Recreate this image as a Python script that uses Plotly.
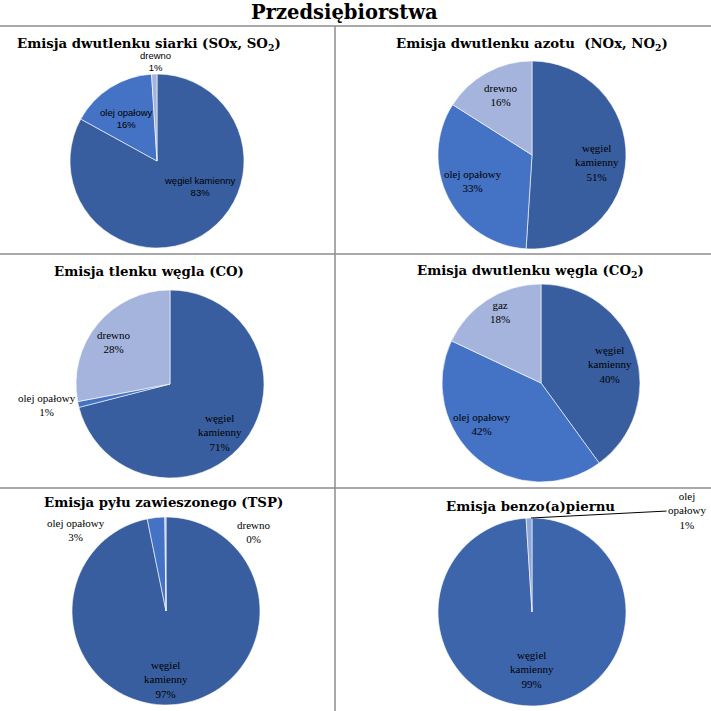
import plotly.graph_objects as go

# udział źródeł w emisji (%) - Przedsiębiorstwa
so2_labels = ['węgiel kamienny', 'olej opałowy', 'drewno']
so2_values = [83, 16, 1]

nox_labels = ['węgiel<br>kamienny', 'olej opałowy', 'drewno']
nox_values = [51, 33, 16]

co_labels = ['węgiel<br>kamienny', 'olej opałowy', 'drewno']
co_values = [71, 1, 28]

co2_labels = ['węgiel<br>kamienny', 'olej opałowy', 'gaz']
co2_values = [40, 42, 18]

tsp_labels = ['węgiel<br>kamienny', 'olej opałowy', 'drewno']
tsp_values = [96.8, 3.0, 0.2]

bap_labels = ['węgiel<br>kamienny', 'olej<br>opałowy']
bap_values = [99, 1]

titles = ['Emisja dwutlenku siarki (SOx, SO<sub>2</sub>)',
          'Emisja dwutlenku azotu  (NOx, NO<sub>2</sub>)',
          'Emisja tlenku węgla (CO)',
          'Emisja dwutlenku węgla (CO<sub>2</sub>)',
          'Emisja pyłu zawieszonego (TSP)',
          'Emisja benzo(a)piernu']

DARK = '#385E9F'
MID = '#4472C4'
LIGHT = '#A5B4DC'

W = 711


def px(x):
    return x / W


def py(y):
    return 1 - y / W


def dom(cx, cy, r):
    return dict(x=[px(cx - r), px(cx + r)], y=[py(cy + r), py(cy - r)])


serif = dict(family='Liberation Serif', size=11, color='black')
sans = dict(family='Liberation Sans', size=9.5, color='black')

# pie: labels, values, colours, (centre x, centre y, radius), label positions, label font
specs = [
    (so2_labels, so2_values, [DARK, MID, LIGHT], (157, 161, 87),
     [(199, 187), (126, 118), (155, 62)], sans),
    (nox_labels, nox_values, [DARK, MID, LIGHT], (532, 155, 94),
     [(597, 163), (473, 181), (500, 95)], serif),
    (co_labels, co_values, [DARK, MID, LIGHT], (170, 384, 94),
     [(220, 432), (47, 405), (113, 342)], serif),
    (co2_labels, co2_values, [DARK, MID, LIGHT], (541, 383, 99),
     [(610, 364), (482, 424), (500, 312)], serif),
    (tsp_labels, tsp_values, [DARK, MID, LIGHT], (166, 611, 94),
     [(166, 679), (76, 530), (253, 532)], serif),
    (bap_labels, bap_values, ['#3D65AC', '#8EA5D8'], (532, 612, 94),
     [(532, 669), (687, 510)], serif),
]

fig = go.Figure()
annotations = []

for labels, values, colors, (cx, cy, r), lpos, font in specs:
    fig.add_trace(go.Pie(
        labels=labels, values=values, sort=False, direction='clockwise', rotation=0,
        domain=dom(cx, cy, r),
        marker=dict(colors=colors, line=dict(color='white', width=0.6)),
        textinfo='none',
        showlegend=False,
        hoverinfo='label+percent',
    ))
    total = sum(values)
    for lab, v, (lx, ly) in zip(labels, values, lpos):
        annotations.append(dict(text=f'{lab}<br>{round(v / total * 100)}%',
                                x=px(lx), y=py(ly), xref='paper', yref='paper',
                                xanchor='center', yanchor='middle', showarrow=False,
                                font=font))

# leader line for the small slice in benzo(a)piren pie
bap_note = annotations[-1]
bap_note.update(x=px(531), y=py(518), showarrow=True, arrowhead=0, arrowwidth=1,
                arrowcolor='black', ax=687 - 531, ay=510 - 518, standoff=0)

title_font = dict(family='DejaVu Serif', size=13.3, color='black')
title_pos = [(15, 44, 'left'), (532, 44, 'center'), (149, 272, 'center'),
             (530, 271, 'center'), (163, 503, 'center'), (530, 507, 'center')]
annotations.append(dict(text='<b>Przedsiębiorstwa</b>', x=px(344), y=py(13), xref='paper', yref='paper',
                        xanchor='center', yanchor='middle', showarrow=False,
                        font=dict(family='DejaVu Serif', size=19.5, color='black')))
for t, (x, y, a) in zip(titles, title_pos):
    annotations.append(dict(text='<b>' + t + '</b>', x=px(x), y=py(y), xref='paper', yref='paper',
                            xanchor=a, yanchor='middle', showarrow=False, font=title_font))

gray = dict(color='#8C8C8C', width=1.5)
shapes = [
    dict(type='line', xref='paper', yref='paper', x0=0, x1=1, y0=py(26), y1=py(26), line=gray),
    dict(type='line', xref='paper', yref='paper', x0=0, x1=1, y0=py(254), y1=py(254), line=gray),
    dict(type='line', xref='paper', yref='paper', x0=0, x1=1, y0=py(488), y1=py(488), line=gray),
    dict(type='line', xref='paper', yref='paper', x0=px(335), x1=px(335), y0=0, y1=py(26), line=gray),
]

fig.update_layout(width=W, height=W, margin=dict(l=0, r=0, t=0, b=0),
                  paper_bgcolor='white', plot_bgcolor='white',
                  annotations=annotations, shapes=shapes)

# drop the default 8px page margin so the figure fills the window exactly
fig.write_html('out.html', config={'displayModeBar': False},
               post_script="document.body.style.margin='0';")
